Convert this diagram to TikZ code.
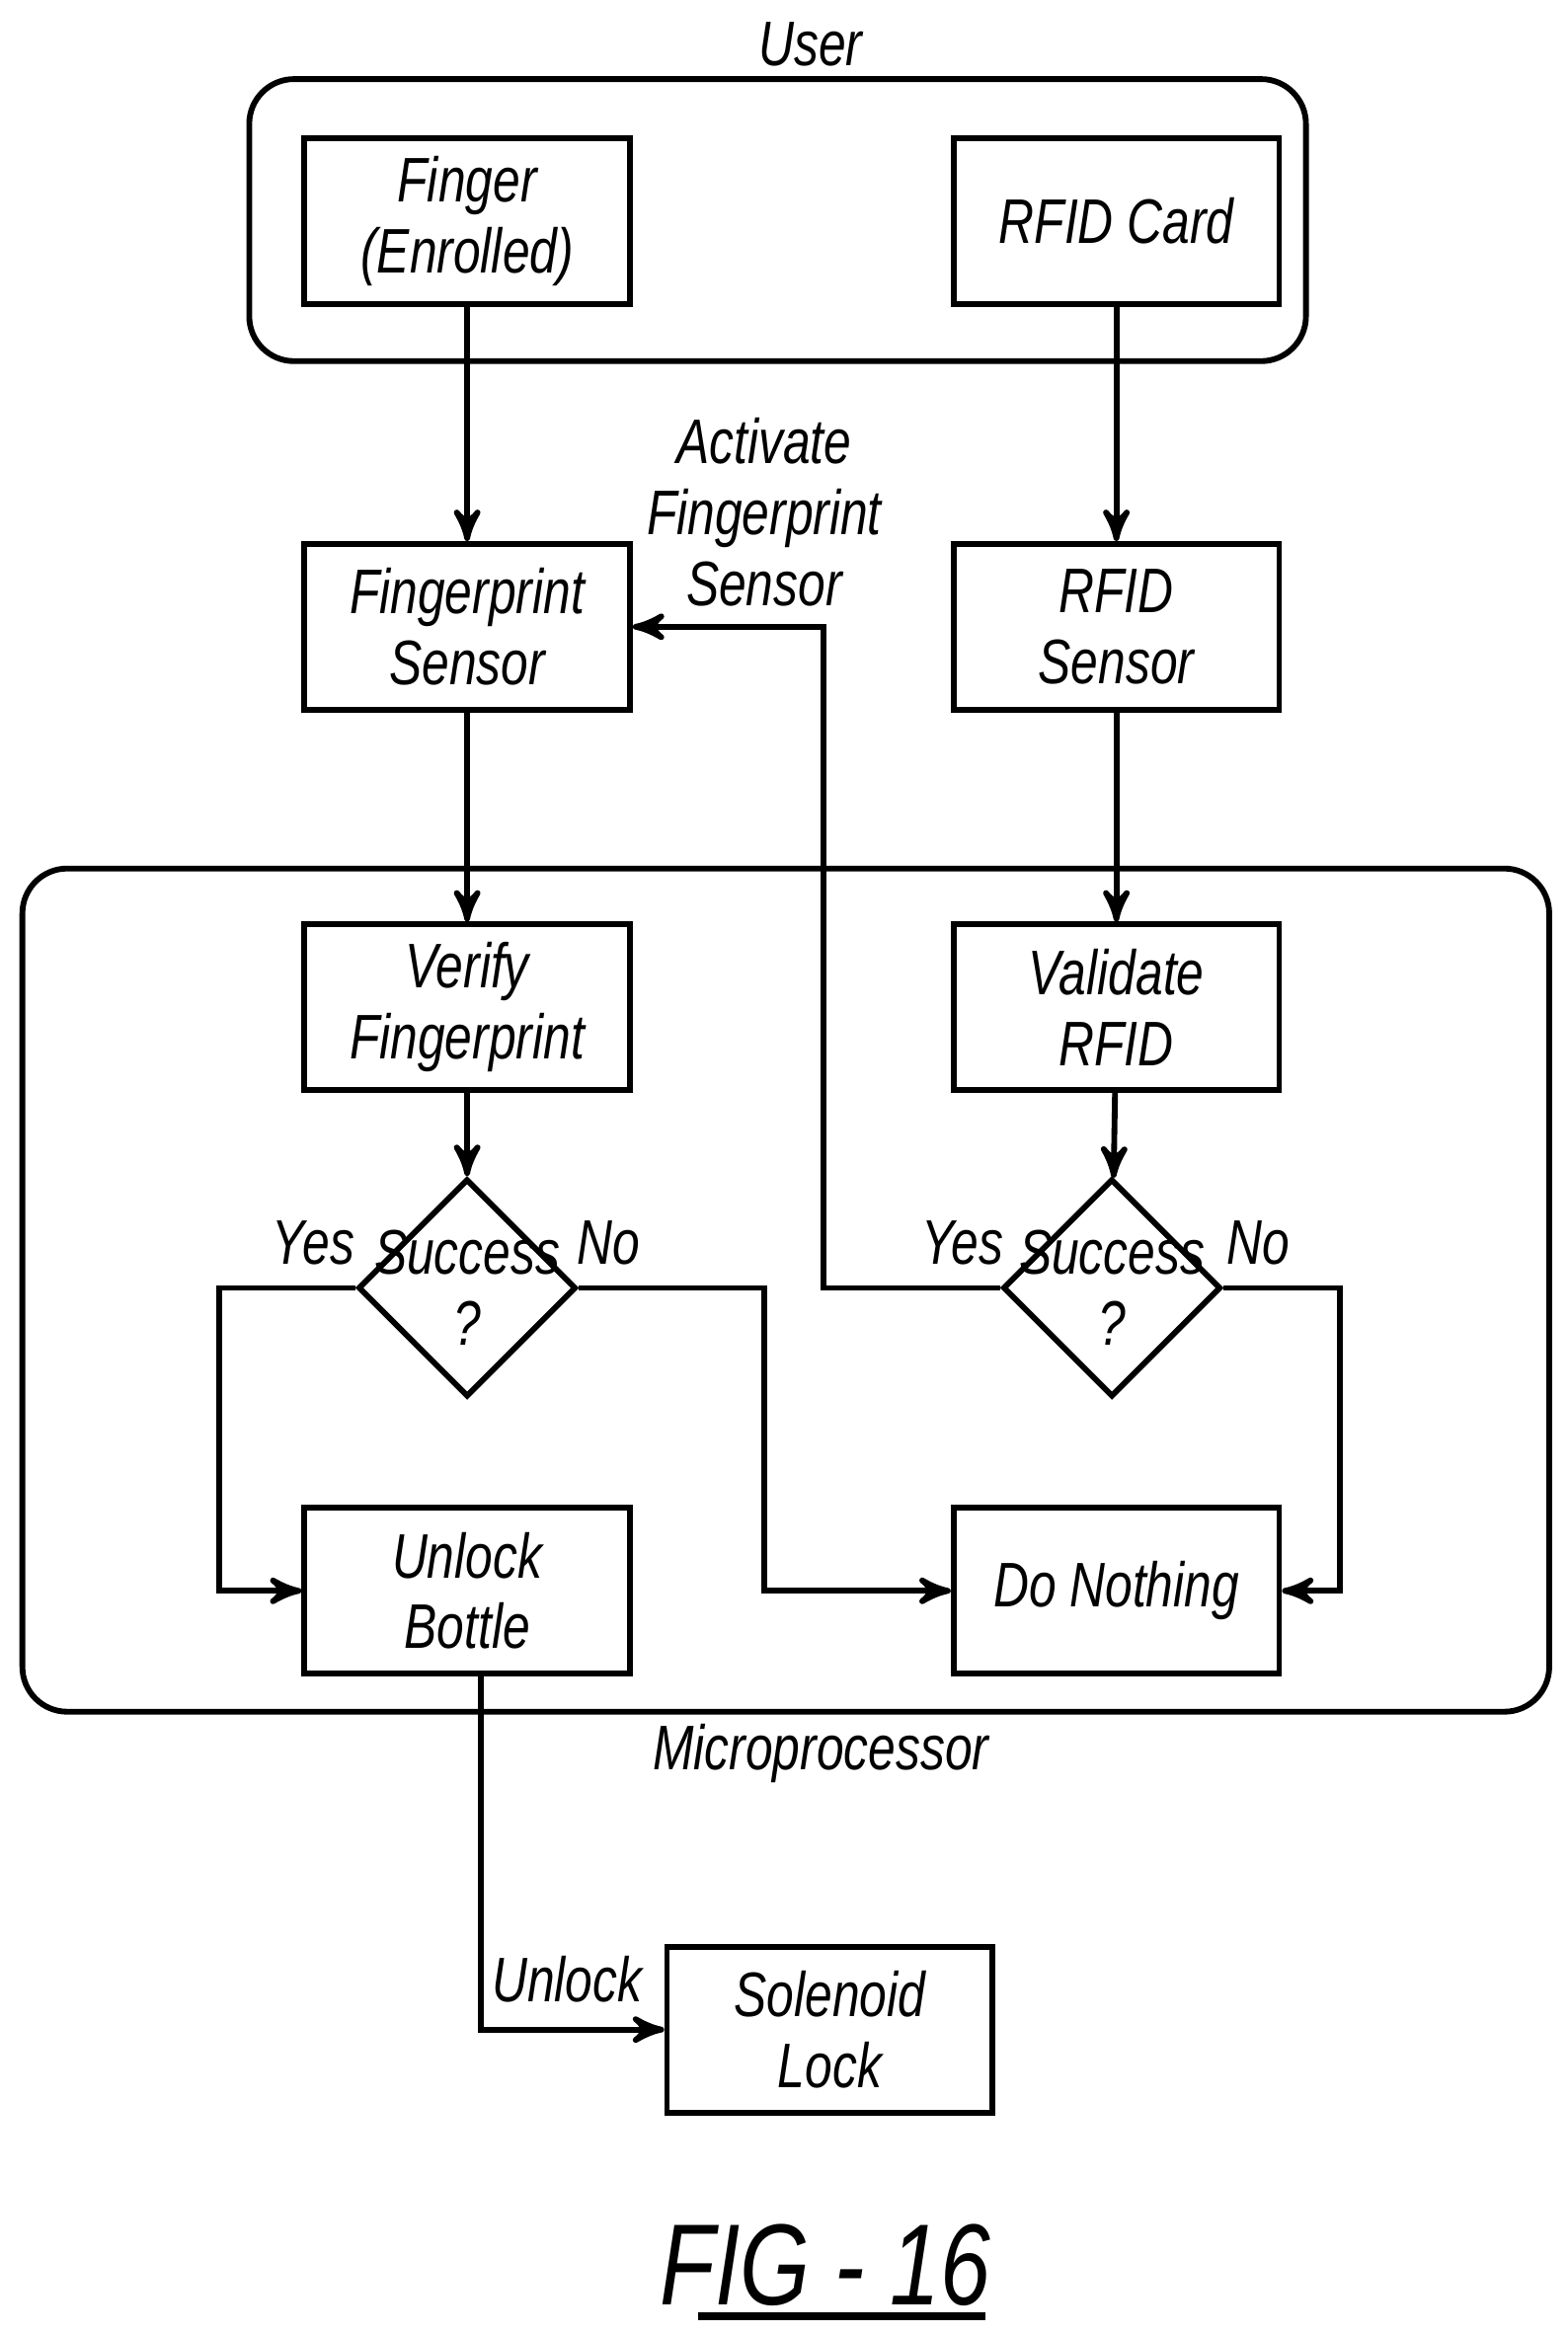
\documentclass[tikz,border=0pt]{standalone}
\usepackage{fontspec}
\setmainfont{Liberation Sans}[FakeStretch=0.78]
\usetikzlibrary{arrows,shapes,shapes.geometric}
\usetikzlibrary{positioning}
\tikzstyle{blk}=[draw,line width=1.1pt,minimum width=2.18cm,minimum height=1.11cm,align=center,inner sep=0]
\tikzstyle{dec}=[draw,line width=1.1pt,diamond,minimum size=1.46cm,inner sep=0]
\tikzstyle{grp}=[draw,line width=1.1pt,rounded corners=0.3cm]
\tikzstyle{flow}=[->,>=stealth',line width=1.1pt]
\tikzstyle{lbl}=[align=center]
\begin{document}
\begin{tikzpicture}[x=0.01cm,y=-0.01cm,font=\fontsize{12}{13.5}\selectfont\itshape]
\useasboundingbox (0,0) rectangle (1050,1564);

\draw[grp] (167,53) rectangle (875,242);
\node[lbl] (user) at (543,30) {User};
\draw[grp] (15,582) rectangle (1038,1147);
\node[lbl] (micro) at (550,1175) {Microprocessor};

\node[blk] (finger) at (313,148) {Finger\\(Enrolled)};
\node[blk] (card) at (748,148) {RFID Card};
\node[blk] (fps) at (313,420) {Fingerprint\\Sensor};
\node[blk] (rfs) at (748,420) {RFID\\Sensor};
\node[blk] (verify) at (313,675) {Verify\\Fingerprint};
\node[blk] (valid) at (748,675) {Validate\\RFID};
\node[dec] (succ1) at (313,863) {};
\node[dec] (succ2) at (745,863) {};
\node[lbl] (q1) at (succ1) {Success\\?};
\node[lbl] (q2) at (succ2) {Success\\?};
\node[blk] (unlock) at (313,1066) {Unlock\\Bottle};
\node[blk] (nothing) at (748,1066) {Do Nothing};
\node[blk] (sol) at (556,1360) {Solenoid\\Lock};

\coordinate (y1) at (147,863);
\coordinate (n1) at (512,863);
\coordinate (y2) at (552,863);
\coordinate (n2) at (898,863);
\coordinate (ub) at (322,1122);

\draw[flow] (finger) -- (fps);
\draw[flow] (card) -- (rfs);
\draw[flow] (fps) -- (verify);
\draw[flow] (rfs) -- (valid);
\draw[flow] (verify) -- (succ1);
\draw[flow] (valid) -- (succ2);
\draw[flow] (succ1.west) -- (y1) |- (unlock.west);
\draw[flow] (succ1.east) -- (n1) |- (nothing.west);
\draw[flow] (succ2.west) -- (y2) |- (fps.east);
\draw[flow] (succ2.east) -- (n2) |- (nothing.east);
\draw[flow] (ub) |- (sol.west);

\node[lbl] (yes1) at (210,833) {Yes};
\node[lbl] (no1) at (408,833) {No};
\node[lbl] (yes2) at (645,833) {Yes};
\node[lbl] (no2) at (843,833) {No};
\node[lbl] (act) at (512,343) {Activate\\Fingerprint\\Sensor};
\node[lbl] (ulk) at (380,1326) {Unlock};

\node (fig) at (553,1518) {\fontsize{22}{26}\selectfont FIG - 16};
\draw[line width=1.6pt] (468,1552) -- (660,1552);
\end{tikzpicture}
\end{document}
